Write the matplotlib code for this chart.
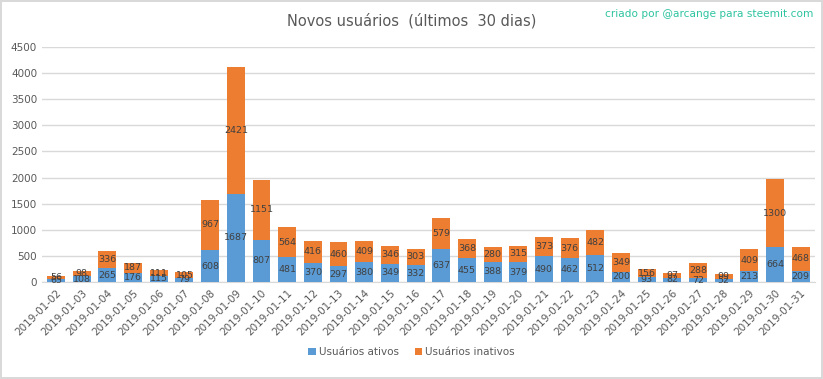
import numpy as np
import matplotlib.pyplot as plt

dates = ['2019-01-%02d' % d for d in range(2, 32)]
ativos = [65, 108, 265, 176, 115, 79, 608, 1687, 807, 481, 370, 297, 380, 349, 332,
          637, 455, 388, 379, 490, 462, 512, 200, 93, 82, 72, 52, 213, 664, 209]
inativos = [56, 98, 336, 187, 111, 105, 967, 2421, 1151, 564, 416, 460, 409, 346, 303,
            579, 368, 280, 315, 373, 376, 482, 349, 156, 97, 288, 99, 409, 1300, 468]

blue = '#5B9BD5'
orange = '#ED7D31'
txt = '#595959'

fig = plt.figure(figsize=(8.23, 3.79), dpi=100)
fig.patch.set_edgecolor('#D9D9D9')
fig.patch.set_linewidth(1.5)
ax = fig.add_axes([0.051, 0.256, 0.939, 0.62])

x = np.arange(len(dates))
b1 = ax.bar(x, ativos, 0.7, color=blue, label='Usuários ativos', zorder=3)
b2 = ax.bar(x, inativos, 0.7, bottom=ativos, color=orange, label='Usuários inativos', zorder=3)
ax.bar_label(b1, label_type='center', fontsize=6.8, color='#404040')
ax.bar_label(b2, label_type='center', fontsize=6.8, color='#404040')

ax.set_xlim(-0.55, len(dates) - 0.45)
ax.set_ylim(0, 4500)
ax.set_yticks(range(0, 4501, 500))
ax.set_xticks(x)
ax.set_xticklabels(dates, rotation=45, ha='right', rotation_mode='anchor')
ax.tick_params(axis='both', length=0, labelsize=7.5, labelcolor=txt)
ax.tick_params(axis='x', pad=4)
ax.grid(axis='y', color='#D9D9D9', linewidth=1, zorder=0)
for s in ['top', 'right', 'left']:
    ax.spines[s].set_visible(False)
ax.spines['bottom'].set_color('#D9D9D9')

fig.text(0.5, 0.945, 'Novos usuários  (últimos  30 dias)', ha='center', va='center',
         fontsize=10.5, color=txt)
fig.text(0.988, 0.962, 'criado por @arcange para steemit.com', ha='right', va='center',
         fontsize=7.6, color='#2EC4A0')

fig.legend(loc='center', bbox_to_anchor=(0.5, 0.07), ncol=2, frameon=False,
           fontsize=7.5, handlelength=0.7, handleheight=0.7, columnspacing=1.5,
           handletextpad=0.3, labelcolor=txt)

fig.savefig('out.png', dpi=100)
